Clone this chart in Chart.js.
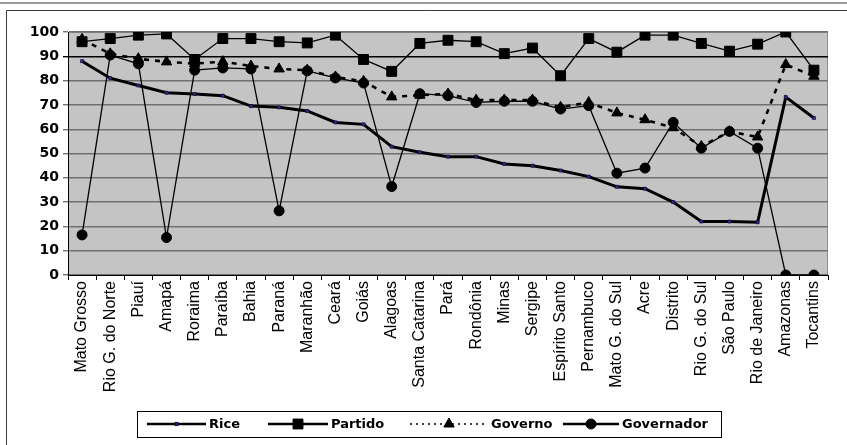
<!DOCTYPE html>
<html>
<head>
<meta charset="utf-8">
<script src="https://cdn.jsdelivr.net/npm/chart.js@4.4.1/dist/chart.umd.min.js"></script>
<style>
  html, body { margin: 0; padding: 0; background: #fff; }
  #wrap { width: 847px; height: 445px; position: relative; }
</style>
</head>
<body>
<div id="wrap"><canvas id="chart" width="847" height="445"></canvas></div>
<script>
// States, ordered by the Rice index
const estados = ['Mato Grosso', 'Rio G. do Norte', 'Piauí', 'Amapá', 'Roraima', 'Paraíba', 'Bahia',
  'Paraná', 'Maranhão', 'Ceará', 'Goiás', 'Alagoas', 'Santa Catarina', 'Pará', 'Rondônia', 'Minas',
  'Sergipe', 'Espírito Santo', 'Pernambuco', 'Mato G. do Sul', 'Acre', 'Distrito', 'Rio G. do Sul',
  'São Paulo', 'Rio de Janeiro', 'Amazonas', 'Tocantins'];

const rice = [88, 81, 78, 75, 74.5, 73.8, 69.5, 69, 67.5, 62.8, 62, 52.8, 50.5, 48.7, 48.7, 45.7,
  45, 43, 40.5, 36.3, 35.5, 30, 22, 22, 21.7, 73.2, 64.6];
const partido = [96, 97.3, 98.7, 99.2, 88.7, 97.3, 97.3, 96, 95.5, 98.7, 88.7, 83.8, 95.3, 96.6, 96,
  91.1, 93.4, 82, 97.3, 91.7, 98.7, 98.7, 95.3, 92.1, 95, 100, 84.3];
const governo = [97, 91, 89, 87.7, 87, 87.8, 86, 84.8, 84.3, 81.5, 79.7, 73.3, 74, 74.5, 72, 72,
  72, 69, 71, 66.7, 63.9, 60.6, 52.9, 59, 56.8, 86.6, 81.8];
const governador = [16.5, 90.5, 86.9, 15.4, 84.3, 85.2, 84.8, 26.4, 84, 81.1, 79, 36.4, 74.6, 73.8,
  71, 71.5, 71.5, 68.3, 69.7, 41.9, 44, 62.8, 52.2, 59.1, 52.2, 0, 0];

const yTicks = [0, 10, 20, 30, 40, 50, 60, 70, 80, 90, 100];

const FONT = "'Liberation Sans', Arial, sans-serif";
const WIDE = "'DejaVu Sans', Verdana, sans-serif";

// grey plot background and the outer frame
const backdrop = {
  id: 'backdrop',
  beforeDraw(chart) {
    const { ctx, chartArea: a } = chart;
    ctx.save();
    ctx.fillStyle = '#c4c4c4';
    ctx.fillRect(a.left, a.top, a.right - a.left, a.bottom - a.top);
    ctx.strokeStyle = '#8c8c8c';
    ctx.lineWidth = 1;
    ctx.strokeRect(a.left + 0.5, a.top + 0.5, a.right - a.left - 1, a.bottom - a.top);
    // page rule and chart frame
    ctx.strokeStyle = '#9a9a9a';
    ctx.lineWidth = 2;
    ctx.beginPath(); ctx.moveTo(0, 3); ctx.lineTo(847, 3); ctx.stroke();
    ctx.strokeStyle = '#3a3a3a';
    ctx.lineWidth = 1;
    ctx.beginPath();
    ctx.moveTo(6.5, 445); ctx.lineTo(6.5, 10.5); ctx.lineTo(847, 10.5);
    ctx.stroke();
    ctx.restore();
  }
};

// boxed legend with a line sample and marker for each series
const boxLegend = {
  id: 'boxLegend',
  afterDraw(chart) {
    const ctx = chart.ctx;
    const slots = [
      { x0: 147, x1: 206 },
      { x0: 268, x1: 328 },
      { x0: 410, x1: 488 },
      { x0: 563, x1: 619 }
    ];
    const cy = 424;
    ctx.save();
    ctx.fillStyle = '#fff';
    ctx.fillRect(137, 411, 584, 26);
    ctx.strokeStyle = '#000';
    ctx.lineWidth = 1;
    ctx.strokeRect(137.5, 411.5, 584, 26);
    chart.data.datasets.forEach((ds, i) => {
      const s = slots[i];
      ctx.save();
      ctx.strokeStyle = ds.borderColor;
      ctx.lineWidth = ds.legendLine || ds.borderWidth;
      ctx.setLineDash(ds.legendDash || []);
      ctx.beginPath(); ctx.moveTo(s.x0, cy); ctx.lineTo(s.x1, cy); ctx.stroke();
      ctx.restore();
      ctx.fillStyle = ds.pointBackgroundColor;
      ctx.strokeStyle = ds.pointBorderColor;
      ctx.lineWidth = 1;
      Chart.helpers.drawPoint(ctx, {
        pointStyle: ds.pointStyle, radius: ds.pointRadius, borderWidth: 1, rotation: 0
      }, (s.x0 + s.x1) / 2, cy);
      ctx.fillStyle = '#000';
      ctx.font = 'bold 13px ' + WIDE;
      ctx.textBaseline = 'middle';
      ctx.fillText(ds.label, s.x1 + 3, cy + 1);
    });
    ctx.restore();
  }
};

new Chart(document.getElementById('chart'), {
  type: 'line',
  data: {
    labels: estados,
    datasets: [
      {
        label: 'Rice', data: rice, order: 0,
        borderColor: '#000', borderWidth: 3, legendLine: 2.5,
        pointStyle: 'rect', pointRadius: 2.2,
        pointBackgroundColor: '#2b2b8c', pointBorderColor: '#0a0a30', pointBorderWidth: 0.6
      },
      {
        label: 'Partido', data: partido, order: 1,
        borderColor: '#000', borderWidth: 1.3, legendLine: 2.5,
        pointStyle: 'rect', pointRadius: 7,
        pointBackgroundColor: '#000', pointBorderColor: '#000', pointBorderWidth: 1
      },
      {
        label: 'Governo', data: governo, order: 3,
        borderColor: '#000', borderWidth: 2.6, borderDash: [5, 6], legendLine: 1.5, legendDash: [2, 4],
        pointStyle: 'triangle', pointRadius: 6,
        pointBackgroundColor: '#000', pointBorderColor: '#000', pointBorderWidth: 1
      },
      {
        label: 'Governador', data: governador, order: 2,
        borderColor: '#000', borderWidth: 1.3, legendLine: 2.5,
        pointStyle: 'circle', pointRadius: 5,
        pointBackgroundColor: '#000', pointBorderColor: '#000', pointBorderWidth: 1
      }
    ]
  },
  options: {
    responsive: false,
    animation: false,
    devicePixelRatio: 1,
    layout: { padding: { left: 10, right: 19, top: 32, bottom: 40 } },
    plugins: { legend: { display: false }, tooltip: { enabled: false }, title: { display: false } },
    elements: { line: { tension: 0 } },
    scales: {
      x: {
        offset: true,
        grid: { offset: true, drawOnChartArea: false, drawTicks: true, tickLength: 5, color: '#000' },
        border: { color: '#000', width: 1 },
        ticks: {
          autoSkip: false, minRotation: 90, maxRotation: 90, padding: 1,
          color: '#000', font: { family: FONT, size: 16 }
        },
        afterFit(scale) { scale.height = 130; }
      },
      y: {
        min: 0, max: 100,
        afterBuildTicks(scale) { scale.ticks = yTicks.map(v => ({ value: v })); },
        grid: {
          tickLength: 5,
          lineWidth: 1.4,
          color: ctx => (ctx.tick && ctx.tick.value === 90 ? '#000' : '#707070')
        },
        border: { color: '#000', width: 1 },
        ticks: { color: '#000', padding: 4, font: { family: WIDE, size: 14, weight: 'bold' } },
        afterFit(scale) { scale.width = 58; }
      }
    }
  },
  plugins: [backdrop, boxLegend]
});
</script>
</body>
</html>
